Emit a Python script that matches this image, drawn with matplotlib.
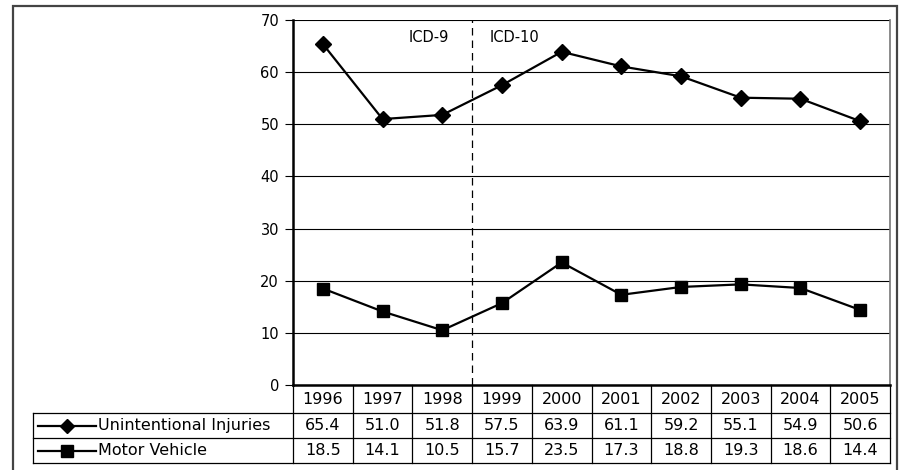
import matplotlib.pyplot as plt
from matplotlib.lines import Line2D
from matplotlib.patches import Rectangle
from matplotlib.transforms import blended_transform_factory

years = ["1996", "1997", "1998", "1999", "2000", "2001", "2002", "2003", "2004", "2005"]
injuries = [65.4, 51.0, 51.8, 57.5, 63.9, 61.1, 59.2, 55.1, 54.9, 50.6]
motor = [18.5, 14.1, 10.5, 15.7, 23.5, 17.3, 18.8, 19.3, 18.6, 14.4]
series_names = ["Unintentional Injuries", "Motor Vehicle"]
series_markers = ["D", "s"]

plt.rcParams["font.family"] = "DejaVu Sans"
W, H = 899, 470
fig = plt.figure(figsize=(W / 100, H / 100), dpi=100)


def fx(px):
    return px / W


def fy(py):
    return 1 - py / H


# outer chart frame
fig.add_artist(Rectangle((fx(13), fy(475)), fx(897 - 13), (475 - 6) / H,
                         transform=fig.transFigure, fill=False,
                         edgecolor="#444444", linewidth=1.6))

left, right, top, bottom = 293, 890, 20, 385
ax = fig.add_axes([fx(left), fy(bottom), fx(right - left), (bottom - top) / H])

x = list(range(len(years)))
ax.plot(x, injuries, color="black", linewidth=1.6, marker="D", markersize=8.5)
ax.plot(x, motor, color="black", linewidth=1.6, marker="s", markersize=9)

ax.set_xlim(-0.5, len(years) - 0.5)
ax.set_ylim(0, 70)
ax.set_yticks(range(0, 71, 10))
ax.set_xticks([])
ax.yaxis.grid(True, color="black", linewidth=0.8)
ax.set_axisbelow(True)
ax.tick_params(axis="y", length=6, width=0.8, labelsize=10.5, pad=4)
ax.spines["left"].set_linewidth(1.8)
ax.spines["bottom"].set_linewidth(1.8)
ax.spines["top"].set_visible(False)
ax.spines["right"].set_color("#777777")
ax.spines["right"].set_linewidth(1.2)

# ICD-9 / ICD-10 separator
ax.axvline(2.5, color="black", linewidth=0.9, linestyle=(0, (6, 4)))
ax.text(2.12, 66.7, "ICD-9", ha="right", va="center", fontsize=10.5)
ax.text(2.8, 66.7, "ICD-10", ha="left", va="center", fontsize=10.5)

# data table below the axes
tr = blended_transform_factory(ax.transData, fig.transFigure)
row_y = [385, 413, 438, 463]
lw = 0.9
for i in range(len(years) + 1):
    fig.add_artist(Line2D([i - 0.5, i - 0.5], [fy(row_y[0]), fy(row_y[-1])],
                          transform=tr, color="black", linewidth=lw))
for yy in row_y[1:]:
    fig.add_artist(Line2D([fx(33), fx(right)], [fy(yy), fy(yy)],
                          transform=fig.transFigure, color="black", linewidth=lw))
fig.add_artist(Line2D([fx(33), fx(33)], [fy(row_y[1]), fy(row_y[-1])],
                      transform=fig.transFigure, color="black", linewidth=lw))

for i, yr in enumerate(years):
    fig.text(i, fy((row_y[0] + row_y[1]) / 2), yr, transform=tr,
             ha="center", va="center", fontsize=11.5)

for r, (name, mk, vals) in enumerate(zip(series_names, series_markers, [injuries, motor])):
    yc = fy((row_y[r + 1] + row_y[r + 2]) / 2)
    for i, v in enumerate(vals):
        fig.text(i, yc, f"{v:.1f}", transform=tr, ha="center", va="center", fontsize=11.5)
    fig.add_artist(Line2D([fx(38), fx(96)], [yc, yc], transform=fig.transFigure,
                          color="black", linewidth=1.6))
    fig.add_artist(Line2D([fx(67)], [yc], transform=fig.transFigure, color="black",
                          marker=mk, markersize=7 if mk == "D" else 8, linestyle="none"))
    fig.text(fx(98), yc, name, ha="left", va="center", fontsize=11.5)

fig.savefig("out.png", dpi=100)
